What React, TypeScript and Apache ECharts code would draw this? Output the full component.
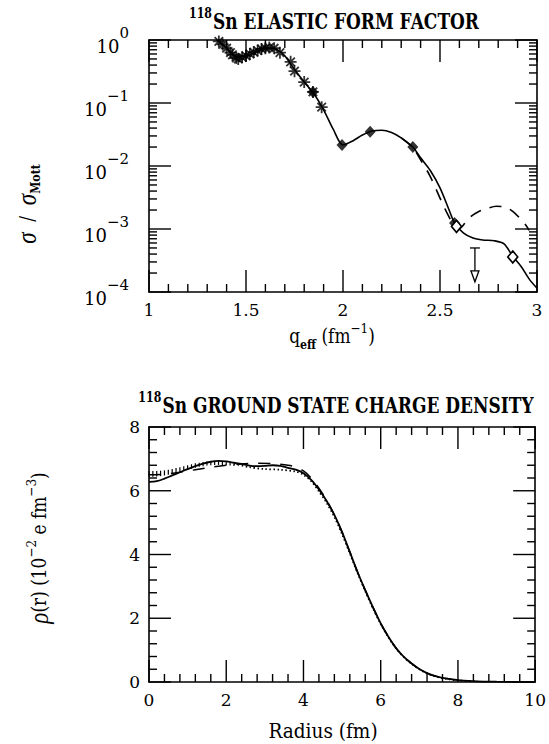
import React, { useEffect, useRef } from "react";
import * as echarts from "echarts";

// ---------- Top panel: 118Sn elastic form factor ----------
const qFit = [1.35, 1.40, 1.45, 1.50, 1.55, 1.60, 1.65, 1.70, 1.75, 1.80, 1.85, 1.90, 1.95, 2.00, 2.05, 2.10, 2.15, 2.20, 2.25, 2.30, 2.36, 2.40, 2.45, 2.50, 2.55, 2.575, 2.62, 2.67, 2.72, 2.78, 2.83, 2.875, 2.92, 2.96, 3.00];
const sigFit = [1.0, 0.75, 0.55, 0.56, 0.65, 0.74, 0.72, 0.56, 0.34, 0.215, 0.14, 0.078, 0.038, 0.0215, 0.025, 0.031, 0.036, 0.037, 0.034, 0.028, 0.020, 0.0135, 0.0085, 0.0045, 0.0019, 0.00125, 0.00087, 0.00072, 0.00067, 0.00065, 0.00058, 0.00037, 0.00025, 0.00016, 0.000115];

const qDash = [2.30, 2.36, 2.40, 2.45, 2.50, 2.54, 2.57, 2.60, 2.63, 2.66, 2.70, 2.74, 2.79, 2.84, 2.875, 2.91, 2.94, 2.96];
const sigDash = [0.028, 0.0195, 0.0125, 0.0068, 0.0031, 0.0017, 0.00118, 0.00102, 0.00125, 0.00158, 0.0019, 0.0021, 0.0023, 0.0022, 0.0019, 0.0015, 0.00118, 0.00095];

const qStar = [1.36, 1.38, 1.40, 1.42, 1.43, 1.45, 1.46, 1.48, 1.50, 1.52, 1.54, 1.56, 1.58, 1.60, 1.62, 1.645, 1.675, 1.73, 1.75, 1.80, 1.845, 1.89];
const sigStar = [0.95, 0.85, 0.74, 0.63, 0.58, 0.52, 0.50, 0.53, 0.56, 0.60, 0.64, 0.68, 0.72, 0.74, 0.76, 0.74, 0.63, 0.45, 0.32, 0.215, 0.15, 0.086];

const qDia = [1.845, 1.995, 2.14, 2.36, 2.575];
const sigDia = [0.15, 0.0215, 0.035, 0.020, 0.00125];

const qOpen = [2.585, 2.875];
const sigOpen = [0.00110, 0.00036];

const limQ = [2.68];
const limTop = [0.0005];
const limBottom = [0.000145];

// axis tick positions
const qTicks = [1.0, 1.1, 1.2, 1.3, 1.4, 1.5, 1.6, 1.7, 1.8, 1.9, 2.0, 2.1, 2.2, 2.3, 2.4, 2.5, 2.6, 2.7, 2.8, 2.9, 3.0];
const sigMajorTicks = [0.0001, 0.001, 0.01, 0.1, 1];
const logDecades = [-4, -3, -2, -1];
const logMultipliers = [2, 3, 4, 5, 6, 7, 8, 9];
const rTicks = [0, 0.4, 0.8, 1.2, 1.6, 2, 2.4, 2.8, 3.2, 3.6, 4, 4.4, 4.8, 5.2, 5.6, 6, 6.4, 6.8, 7.2, 7.6, 8, 8.4, 8.8, 9.2, 9.6, 10];
const rhoTicks = [0, 0.4, 0.8, 1.2, 1.6, 2, 2.4, 2.8, 3.2, 3.6, 4, 4.4, 4.8, 5.2, 5.6, 6, 6.4, 6.8, 7.2, 7.6, 8];

// ---------- Bottom panel: ground state charge density ----------
const rSolid = [0, 0.2, 0.4, 0.6, 0.8, 1.0, 1.2, 1.4, 1.6, 1.8, 2.0, 2.2, 2.4, 2.6, 2.8, 3.0, 3.2, 3.4, 3.6, 3.8, 4.0, 4.2, 4.4, 4.6, 4.8, 5.0, 5.2, 5.4, 5.6, 5.8, 6.0, 6.2, 6.4, 6.6, 6.8, 7.0, 7.2, 7.4, 7.6, 7.8, 8.0, 8.5, 9.0, 10.0];
const rhoSolid = [6.28, 6.30, 6.38, 6.48, 6.58, 6.68, 6.77, 6.85, 6.91, 6.94, 6.92, 6.88, 6.84, 6.79, 6.77, 6.78, 6.80, 6.78, 6.72, 6.66, 6.55, 6.34, 6.04, 5.68, 5.24, 4.70, 4.08, 3.45, 2.88, 2.34, 1.84, 1.42, 1.06, 0.79, 0.58, 0.41, 0.28, 0.19, 0.13, 0.09, 0.06, 0.02, 0.01, 0.0];

const rDash = [0, 0.4, 0.8, 1.2, 1.6, 2.0, 2.4, 2.8, 3.2, 3.6, 3.8, 4.0, 4.2, 4.4, 4.6, 4.8, 5.0, 5.2, 5.4, 5.6, 5.8, 6.0, 6.2, 6.4, 6.6, 6.8, 7.0, 7.2, 7.4, 7.6, 7.8, 8.0];
const rhoDash = [6.50, 6.52, 6.58, 6.66, 6.74, 6.80, 6.84, 6.86, 6.85, 6.80, 6.74, 6.62, 6.40, 6.08, 5.70, 5.24, 4.70, 4.08, 3.45, 2.88, 2.34, 1.84, 1.42, 1.06, 0.79, 0.58, 0.41, 0.28, 0.19, 0.13, 0.09, 0.06];

const rDot = [2.2, 2.6, 3.0, 3.4, 3.8, 4.0, 4.2, 4.4, 4.6, 4.8, 5.0, 5.2, 5.4, 5.6, 5.8, 6.0, 6.2, 6.4, 6.6, 6.8, 7.0, 7.2, 7.4, 7.6, 7.8, 8.0, 8.5];
const rhoDot = [6.85, 6.74, 6.68, 6.66, 6.60, 6.50, 6.30, 5.98, 5.62, 5.18, 4.64, 4.04, 3.42, 2.85, 2.31, 1.82, 1.40, 1.05, 0.78, 0.57, 0.40, 0.27, 0.18, 0.12, 0.08, 0.05, 0.02];

const bandR = [0, 0.1, 0.2, 0.3, 0.4, 0.5, 0.6, 0.7, 0.8, 0.9, 1.0, 1.1, 1.2, 1.3, 1.4, 1.5, 1.6, 1.7, 1.8, 1.9, 2.0, 2.1, 2.2];
const bandLow = [6.44, 6.44, 6.45, 6.46, 6.48, 6.50, 6.53, 6.56, 6.60, 6.63, 6.66, 6.69, 6.72, 6.75, 6.77, 6.79, 6.80, 6.81, 6.81, 6.81, 6.80, 6.79, 6.78];
const bandHigh = [6.62, 6.62, 6.62, 6.63, 6.64, 6.66, 6.68, 6.71, 6.74, 6.77, 6.80, 6.83, 6.86, 6.88, 6.90, 6.92, 6.93, 6.94, 6.94, 6.93, 6.92, 6.91, 6.90];

const FONT = '"DejaVu Serif", serif';
const GREEK = '"Liberation Serif", serif';
const BLACK = "#000";

const GRID_TOP = { left: 149, top: 40, width: 388, height: 252 };
const GRID_BOT = { left: 149, top: 427, width: 389, height: 255 };
const MAJOR_PX = 22;
const MINOR_PX = 8;
const TW = 1.4;

const zip = (a: number[], b: number[]) => a.map((v, i) => [v, b[i]]);
const isMult = (v: number, step: number) => Math.abs(v / step - Math.round(v / step)) < 1e-6;

const STAR_PATH =
  "path://M-1.5,-10 L1.5,-10 L1.5,10 L-1.5,10 Z M-10,-1.5 L10,-1.5 L10,1.5 L-10,1.5 Z " +
  "M-6.01,-8.13 L8.13,6.01 L6.01,8.13 L-8.13,-6.01 Z M6.01,-8.13 L8.13,-6.01 L-6.01,8.13 L-8.13,6.01 Z";

function App() {
  const ref = useRef<HTMLDivElement>(null);

  useEffect(() => {
    if (!ref.current) return;
    const chart = echarts.init(ref.current, null, { renderer: "svg" });

    const lineStyle = { color: BLACK, width: 1.6 };
    const label = { color: BLACK, fontFamily: FONT, fontSize: 17 };

    const linX = (grid: number, min: number, max: number, interval: number, pos: "top" | "bottom", showLabel: boolean) => ({
      type: "value",
      gridIndex: grid,
      min,
      max,
      interval,
      position: pos,
      axisLine: { show: true, onZero: false, lineStyle },
      axisTick: { show: false },
      minorTick: { show: false },
      splitLine: { show: false },
      axisLabel: showLabel ? { ...label, margin: 9 } : { show: false },
    });

    const logFmt = (v: number) => {
      const e = Math.round(Math.log10(v));
      return `{b|10}{s|${e < 0 ? "\u2212" + -e : e}}`;
    };

    const logY = (pos: "left" | "right", showLabel: boolean) => ({
      type: "log",
      logBase: 10,
      gridIndex: 0,
      min: 0.0001,
      max: 1,
      splitNumber: 4,
      position: pos,
      axisLine: { show: true, onZero: false, lineStyle },
      axisTick: { show: false },
      minorTick: { show: false },
      splitLine: { show: false },
      axisLabel: showLabel
        ? {
            margin: 20,
            formatter: logFmt,
            rich: {
              b: { ...label, fontSize: 18, lineHeight: 30, verticalAlign: "bottom" },
              s: { ...label, fontSize: 15, lineHeight: 14, verticalAlign: "top" },
            },
          }
        : { show: false },
    });

    const linY = (pos: "left" | "right", showLabel: boolean) => ({
      type: "value",
      gridIndex: 1,
      min: 0,
      max: 8,
      interval: 2,
      position: pos,
      axisLine: { show: true, onZero: false, lineStyle },
      axisTick: { show: false },
      minorTick: { show: false },
      splitLine: { show: false },
      axisLabel: showLabel ? { ...label, margin: 9 } : { show: false },
    });

    const txt = (id: string, x: number, y: number, text: string, rich: any, rotation = 0, scaleY = 1.15) => ({
      id,
      type: "text",
      x,
      y,
      rotation,
      scaleY,
      style: {
        text,
        rich,
        align: "center",
        verticalAlign: "middle",
        textAlign: "center",
        textVerticalAlign: "middle",
        fill: BLACK,
      },
    });

    const titleRich = {
      s: { fontFamily: FONT, fontWeight: "bold", fontSize: 11, lineHeight: 14, verticalAlign: "top", fill: BLACK, padding: [0, 1, 0, 0] },
      t: { fontFamily: FONT, fontWeight: "bold", fontSize: 17, lineHeight: 24, fill: BLACK },
    };
    const nameRich = {
      t: { fontFamily: FONT, fontSize: 17, lineHeight: 26, fill: BLACK },
      g: { fontFamily: GREEK, fontStyle: "italic", fontSize: 23, lineHeight: 26, fill: BLACK },
      s: { fontFamily: FONT, fontSize: 12, lineHeight: 14, verticalAlign: "top", fill: BLACK },
      sub: { fontFamily: FONT, fontWeight: "bold", fontSize: 11, lineHeight: 14, verticalAlign: "bottom", fill: BLACK },
    };

    const texts = [
      txt("t1", 334, 21, "{s|118}{t|Sn ELASTIC FORM FACTOR}", titleRich, 0, 1.3),
      txt("t2", 336, 405, "{s|118}{t|Sn GROUND STATE CHARGE DENSITY}", titleRich, 0, 1.3),
      txt("n1", 332, 336, "{t|q}{sub|eff}{t| (fm}{s|\u22121}{t|)}", nameRich),
      txt("n2", 323, 731, "{t|Radius (fm)}", { t: { ...nameRich.t, fontSize: 18.5 } }),
      txt("n3", 27, 204, "{g|\u03c3}{t|  /  }{g|\u03c3}{sub|Mott}", nameRich, Math.PI / 2),
      txt("n4", 39, 548, "{g|\u03c1}{t|(r) (10}{s|\u22122}{t| e fm}{s|\u22123}{t|)}", nameRich, Math.PI / 2),
    ];

    const option: any = {
      animation: false,
      backgroundColor: "#fff",
      grid: [GRID_TOP, GRID_BOT],
      xAxis: [
        linX(0, 1, 3, 0.5, "bottom", true),
        linX(0, 1, 3, 0.5, "top", false),
        linX(1, 0, 10, 2, "bottom", true),
        linX(1, 0, 10, 2, "top", false),
      ],
      yAxis: [logY("left", true), logY("right", false), linY("left", true), linY("right", false)],
      graphic: texts,
      series: [
        {
          name: "fit",
          type: "line",
          xAxisIndex: 0,
          yAxisIndex: 0,
          data: zip(qFit, sigFit),
          smooth: 0.3,
          symbol: "none",
          lineStyle: { color: BLACK, width: 1.6 },
          z: 3,
        },
        {
          name: "fit dashed",
          type: "line",
          xAxisIndex: 0,
          yAxisIndex: 0,
          data: zip(qDash, sigDash),
          smooth: 0.3,
          symbol: "none",
          lineStyle: { color: BLACK, width: 1.6, type: [12, 9] },
          z: 3,
        },
        {
          name: "stars",
          type: "scatter",
          xAxisIndex: 0,
          yAxisIndex: 0,
          data: zip(qStar, sigStar),
          symbol: STAR_PATH,
          symbolSize: 12,
          itemStyle: { color: BLACK },
          z: 4,
        },
        {
          name: "diamonds",
          type: "scatter",
          xAxisIndex: 0,
          yAxisIndex: 0,
          data: zip(qDia, sigDia),
          symbol: "diamond",
          symbolSize: [11, 12],
          itemStyle: { color: BLACK },
          z: 4,
        },
        {
          name: "open diamonds",
          type: "scatter",
          xAxisIndex: 0,
          yAxisIndex: 0,
          data: zip(qOpen, sigOpen),
          symbol: "diamond",
          symbolSize: [10, 12],
          itemStyle: { color: "#fff", borderColor: BLACK, borderWidth: 1.6, opacity: 1 },
          z: 5,
        },
        {
          name: "upper limit",
          type: "custom",
          xAxisIndex: 0,
          yAxisIndex: 0,
          data: limQ.map((q, i) => [q, limTop[i], limBottom[i]]),
          encode: { x: 0, y: 1 },
          renderItem: (_p: any, api: any) => {
            const top = api.coord([api.value(0), api.value(1)]);
            const bot = api.coord([api.value(0), api.value(2)]);
            const st = { stroke: BLACK, lineWidth: 1.3, fill: "none" };
            return {
              type: "group",
              children: [
                { type: "line", shape: { x1: top[0] - 5, y1: top[1], x2: top[0] + 5, y2: top[1] }, style: st },
                { type: "line", shape: { x1: top[0], y1: top[1], x2: bot[0], y2: bot[1] - 10 }, style: st },
                {
                  type: "polygon",
                  shape: { points: [[bot[0] - 4, bot[1] - 11], [bot[0] + 4, bot[1] - 11], [bot[0], bot[1]]] },
                  style: { stroke: BLACK, lineWidth: 1.3, fill: "#fff" },
                },
              ],
            };
          },
          z: 4,
        },
        {
          name: "rho solid",
          type: "line",
          xAxisIndex: 2,
          yAxisIndex: 2,
          data: zip(rSolid, rhoSolid),
          smooth: 0.3,
          symbol: "none",
          lineStyle: { color: BLACK, width: 1.8 },
          z: 3,
        },
        {
          name: "rho dashed",
          type: "line",
          xAxisIndex: 2,
          yAxisIndex: 2,
          data: zip(rDash, rhoDash),
          smooth: 0.3,
          symbol: "none",
          lineStyle: { color: BLACK, width: 1.5, type: [12, 10] },
          z: 3,
        },
        {
          name: "rho dotted",
          type: "line",
          xAxisIndex: 2,
          yAxisIndex: 2,
          data: zip(rDot, rhoDot),
          smooth: 0.3,
          symbol: "none",
          lineStyle: { color: BLACK, width: 1.8, type: [1.5, 2.5] },
          z: 3,
        },
      ],
    };

    chart.setOption(option);

    // ---- ticks and error band, placed through the axes' own scales ----
    const px = (g: number, x: number, y: number): number[] =>
      chart.convertToPixel({ xAxisIndex: g === 0 ? 0 : 2, yAxisIndex: g === 0 ? 0 : 2 } as any, [x, y]) as any;
    const marks: any[] = [];
    let k = 0;
    const vRect = (x: number, y: number, h: number) =>
      marks.push({ id: "m" + k++, type: "rect", z: 50, shape: { x: x - TW / 2, y, width: TW, height: h }, style: { fill: BLACK } });
    const hRect = (x: number, y: number, w: number) =>
      marks.push({ id: "m" + k++, type: "rect", z: 50, shape: { x, y: y - TW / 2, width: w, height: TW }, style: { fill: BLACK } });

    qTicks.forEach((q) => {
      const len = isMult(q, 0.5) ? MAJOR_PX : MINOR_PX;
      const b = px(0, q, 0.0001);
      const t = px(0, q, 1);
      vRect(b[0], b[1] - len, len);
      vRect(t[0], t[1], len);
    });
    const sigAll: number[][] = sigMajorTicks.map((s) => [s, MAJOR_PX]);
    logDecades.forEach((d) => logMultipliers.forEach((m) => sigAll.push([m * Math.pow(10, d), MINOR_PX])));
    sigAll.forEach(([s, len]) => {
      const l = px(0, 1, s);
      const r = px(0, 3, s);
      hRect(l[0], l[1], len);
      hRect(r[0] - len, r[1], len);
    });
    rTicks.forEach((r) => {
      const len = isMult(r, 2) ? MAJOR_PX : MINOR_PX;
      const b = px(1, r, 0);
      const t = px(1, r, 8);
      vRect(b[0], b[1] - len, len);
      vRect(t[0], t[1], len);
    });
    rhoTicks.forEach((p) => {
      const len = isMult(p, 2) ? MAJOR_PX : MINOR_PX;
      const l = px(1, 0, p);
      const r = px(1, 10, p);
      hRect(l[0], l[1], len);
      hRect(r[0] - len, r[1], len);
    });
    bandR.forEach((r, i) => {
      const lo = px(1, r, bandLow[i]);
      const hi = px(1, r, bandHigh[i]);
      marks.push({ id: "m" + k++, type: "rect", z: 50, shape: { x: lo[0] - 0.6, y: hi[1], width: 1.2, height: lo[1] - hi[1] }, style: { fill: BLACK } });
    });

    chart.setOption({ graphic: [...texts, ...marks] });

    return () => chart.dispose();
  }, []);

  return <div ref={ref} style={{ position: "fixed", left: 0, top: 0, width: 549, height: 744, background: "#fff" }} />;
}

export default App;
